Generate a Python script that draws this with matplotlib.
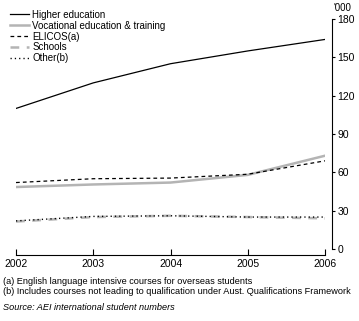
import matplotlib
matplotlib.use("Agg")
import matplotlib.pyplot as plt

# Data ('000 students)
years = [2002, 2003, 2004, 2005, 2006]
higher_ed = [110, 130, 145, 155, 164]
vocational = [48.5, 50.5, 52, 58, 73]
elicos = [52, 55, 55.5, 58.5, 69]
schools = [21.5, 25, 26, 25, 24]
other = [22, 25.5, 26, 25, 25]

plt.rcParams['font.family'] = ['Liberation Sans', 'DejaVu Sans']
plt.rcParams['font.size'] = 7.5

gray = '#b4b4b4'

fig = plt.figure(figsize=(3.59, 3.21), dpi=100)
ax = fig.add_axes([16 / 359, 72 / 321, 309 / 359, 230 / 321])

ax.plot(years, higher_ed, color='black', lw=0.9, label='Higher education')
ax.plot(years, vocational, color=gray, lw=1.8, label='Vocational education & training')
ax.plot(years, elicos, color='black', lw=0.9, dashes=(3, 2.5), label='ELICOS(a)')
ax.plot(years, schools, color=gray, lw=1.8, dashes=(3.5, 3), label='Schools')
ax.plot(years, other, color='black', lw=1.0, dashes=(0.9, 2.2), label='Other(b)')

ax.set_xlim(2002, 2006)
ax.set_ylim(0, 180)
ax.set_xticks(years)
ax.set_yticks(range(0, 181, 30))

ax.spines['left'].set_visible(False)
ax.spines['top'].set_visible(False)
ax.spines['right'].set_position(('outward', 5))
ax.spines['bottom'].set_position(('outward', 4.5))
for s in ('right', 'bottom'):
    ax.spines[s].set_linewidth(0.8)

ax.yaxis.tick_right()
ax.tick_params(axis='y', direction='out', length=2.5, width=0.8, pad=1.5)
ax.tick_params(axis='x', direction='in', length=4, width=0.8, pad=3)

fig.text(333 / 359, 1 - 8 / 321, "'000", ha='left', va='center', fontsize=7)

leg = ax.legend(loc='upper left', bbox_to_anchor=(-0.02, 1.041), frameon=False,
                handlelength=2.0, handletextpad=0.3, labelspacing=0.1,
                borderaxespad=0, borderpad=0, fontsize=7)

fig.text(3 / 359, 1 - 281 / 321, '(a) English language intensive courses for overseas students',
         va='center', fontsize=6.6)
fig.text(3 / 359, 1 - 292 / 321,
         '(b) Includes courses not leading to qualification under Aust. Qualifications Framework',
         va='center', fontsize=6.6)
fig.text(3 / 359, 1 - 307 / 321, 'Source: AEI international student numbers',
         va='center', fontsize=6.6, style='italic')

fig.savefig('out.png', dpi=100)
